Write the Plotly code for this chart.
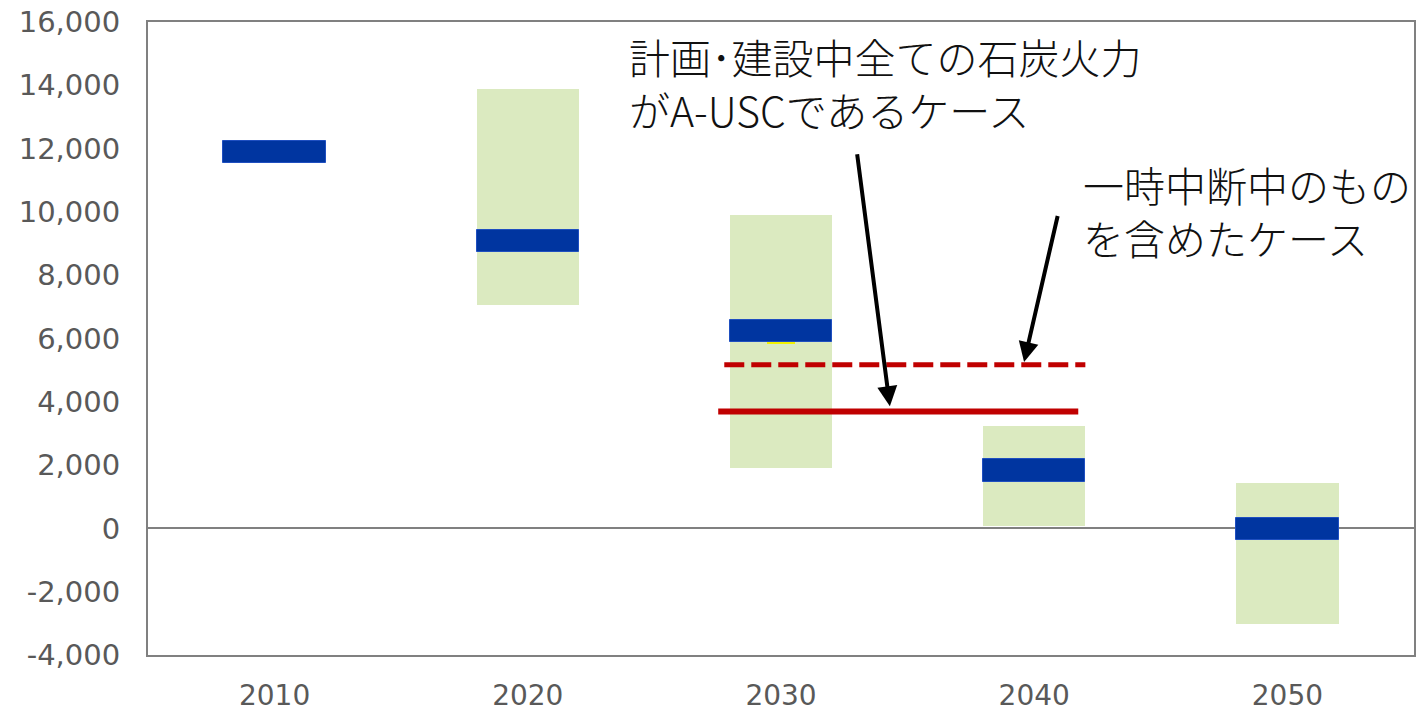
import plotly.graph_objects as go

# ---- data ----
years = ["2010", "2020", "2030", "2040", "2050"]
central = [11900, 9070, 6240, 1830, -30]          # blue markers
range_low = [None, 7060, 1920, 90, -3020]         # green band bottom
range_high = [None, 13890, 9890, 3250, 1450]      # green band top
hidden_2030 = [5950]                              # small yellow marker peeking under 2030
case_a_usc = 3690        # solid red line value
case_incl_paused = 5170  # dashed red line value
ytick_vals = [-4000, -2000, 0, 2000, 4000, 6000, 8000, 10000, 12000, 14000, 16000]
ytick_text = ["-4,000", "-2,000", "0", "2,000", "4,000", "6,000", "8,000",
              "10,000", "12,000", "14,000", "16,000"]
label_a = "計画･建設中全ての石炭火力<br>がA-USCであるケース"
label_b = "一時中断中のもの<br>を含めたケース"

xpos = list(range(len(years)))
BAR_W = 0.405
THICK = 700

fig = go.Figure()

# green range bands
gx = [x for x, lo in zip(xpos, range_low) if lo is not None]
glo = [lo for lo in range_low if lo is not None]
ghi = [hi for hi in range_high if hi is not None]
fig.add_trace(go.Bar(
    x=gx, y=[h - l for h, l in zip(ghi, glo)], base=glo, width=BAR_W,
    marker=dict(color="#dbeac0", line=dict(width=0)), showlegend=False, hoverinfo="skip"))

# small yellow hidden marker
fig.add_trace(go.Bar(
    x=[2], y=[250], base=[v - 125 for v in hidden_2030], width=0.11,
    marker=dict(color="#f2f200", line=dict(width=0)), showlegend=False, hoverinfo="skip"))

# blue central values
fig.add_trace(go.Bar(
    x=xpos, y=[THICK] * len(central), base=[c - THICK / 2 for c in central], width=BAR_W,
    marker=dict(color="#0035a0", line=dict(width=1, color="#1f4fc0")),
    showlegend=False, hoverinfo="skip"))

# red case lines
fig.add_trace(go.Scatter(
    x=[1.776, 3.202], y=[case_incl_paused, case_incl_paused], mode="lines",
    line=dict(color="#c00000", width=5, dash="20px,7px"), showlegend=False, hoverinfo="skip"))
fig.add_trace(go.Scatter(
    x=[1.752, 3.174], y=[case_a_usc, case_a_usc], mode="lines",
    line=dict(color="#c00000", width=6), showlegend=False, hoverinfo="skip"))

# arrows
fig.add_annotation(x=2.43, y=case_a_usc + 170, ax=2.300, ay=11870,
                   xref="x", yref="y", axref="x", ayref="y", text="",
                   showarrow=True, arrowhead=2, arrowsize=1, arrowwidth=4, arrowcolor="#000000")
fig.add_annotation(x=2.96, y=case_incl_paused + 90, ax=3.094, ay=9920,
                   xref="x", yref="y", axref="x", ayref="y", text="",
                   showarrow=True, arrowhead=2, arrowsize=1, arrowwidth=4, arrowcolor="#000000")

# labels
fig.add_annotation(x=1.39, y=15950, xref="x", yref="y", text=label_a, showarrow=False,
                   xanchor="left", yanchor="top", align="left",
                   font=dict(family="Noto Sans CJK JP", size=41, color="#111111", weight=300))
fig.add_annotation(x=3.183, y=11900, xref="x", yref="y", text=label_b, showarrow=False,
                   xanchor="left", yanchor="top", align="left",
                   font=dict(family="Noto Sans CJK JP", size=41, color="#111111", weight=300))

fig.update_layout(
    width=1416, height=712,
    margin=dict(l=148, r=0, t=22, b=52),
    plot_bgcolor="white", paper_bgcolor="white",
    barmode="overlay", bargap=0,
    showlegend=False,
)
fig.update_xaxes(
    range=[-0.5, 4.5], tickvals=xpos, ticktext=years,
    showline=True, linecolor="#808080", linewidth=2, mirror=True,
    showgrid=False, zeroline=False, ticks="",
    tickfont=dict(family="DejaVu Sans", size=28, color="#595959"),
    ticklabelstandoff=14,
)
fig.update_yaxes(
    range=[-4000, 16000], tickvals=ytick_vals, ticktext=ytick_text,
    showline=True, linecolor="#808080", linewidth=2, mirror=True,
    showgrid=False, zeroline=True, zerolinecolor="#808080", zerolinewidth=2,
    ticks="", tickfont=dict(family="DejaVu Sans", size=29, color="#595959"),
    ticklabelstandoff=20,
)

fig.write_html("out.html", config={"displayModeBar": False},
               post_script="document.body.style.margin='0px';")
